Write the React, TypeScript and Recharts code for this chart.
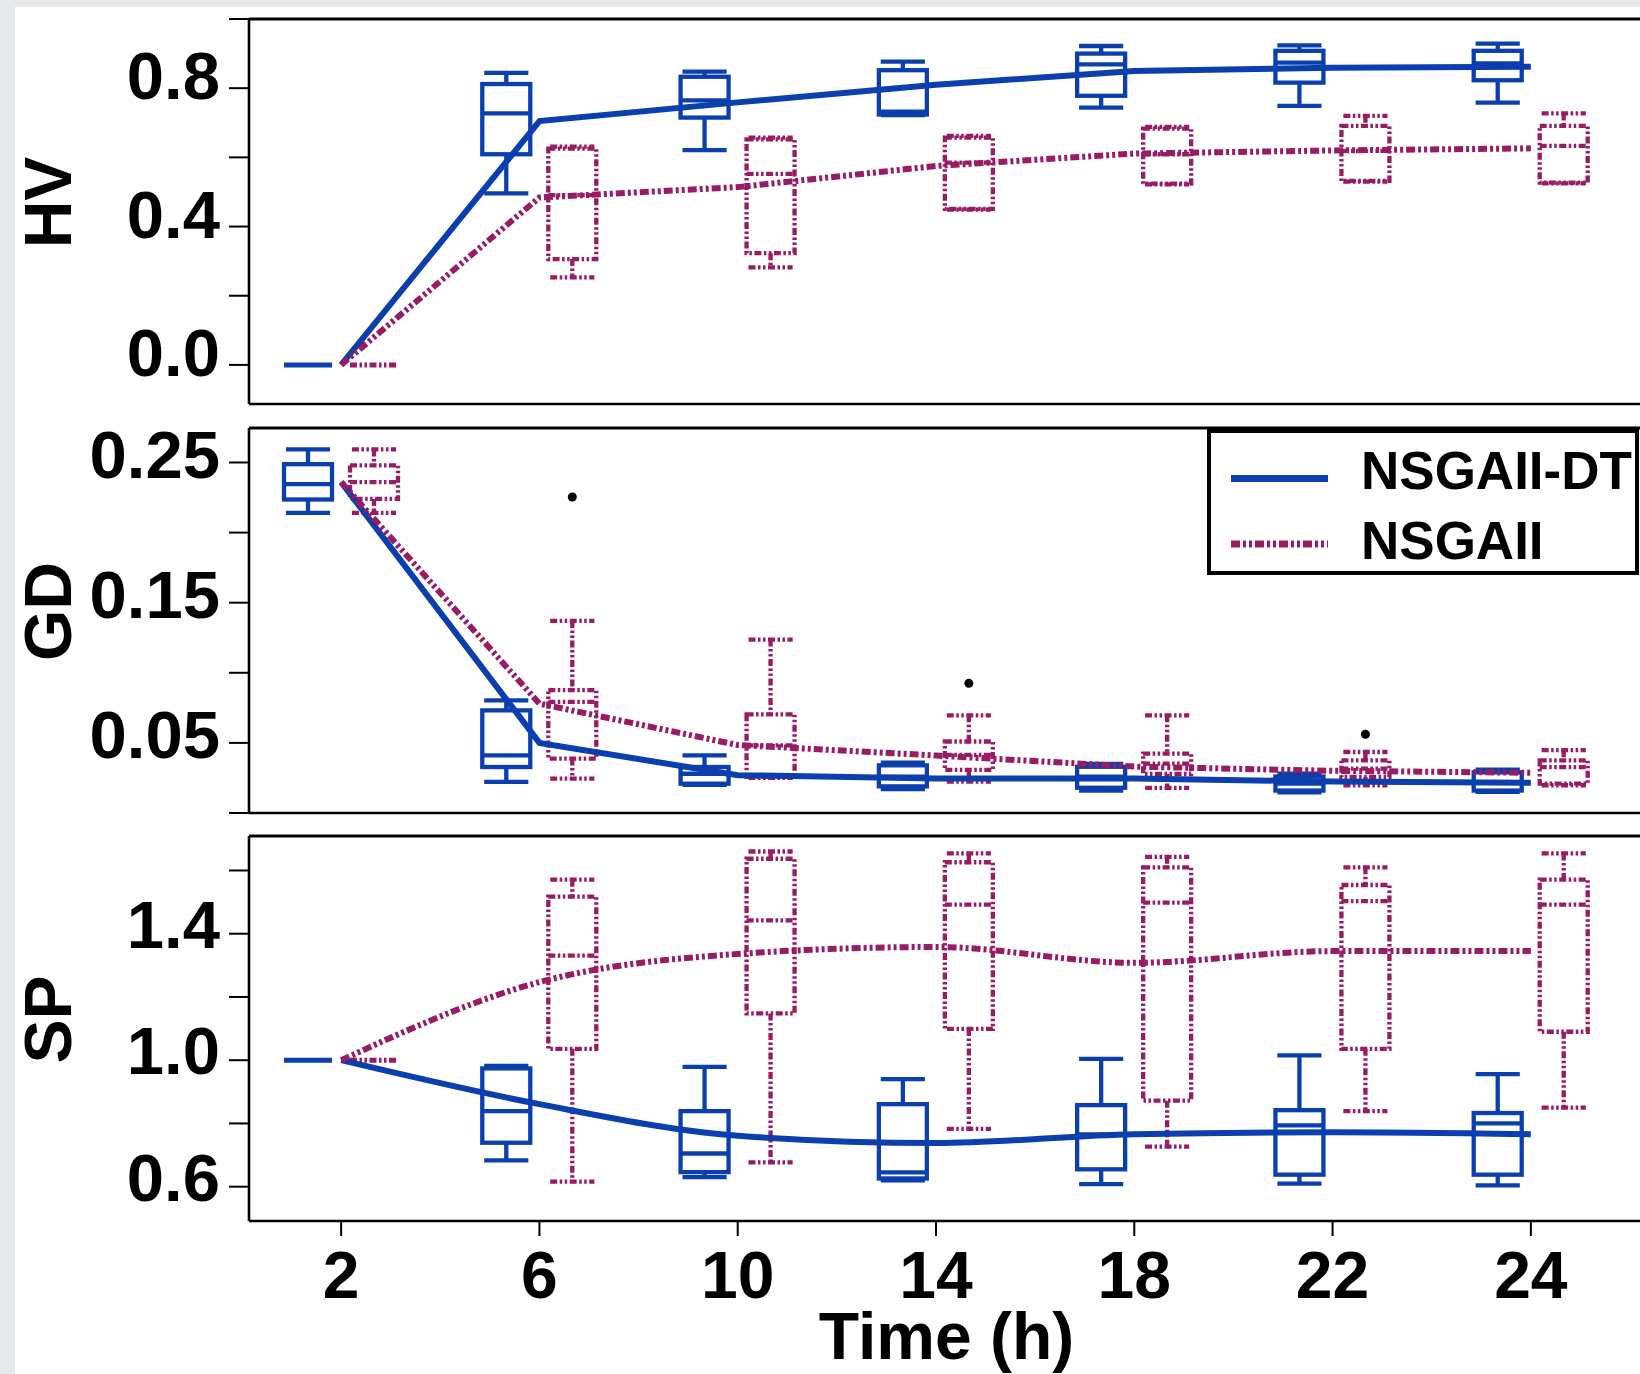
import React from "react";
import {
  ComposedChart,
  Bar,
  Line,
  XAxis,
  YAxis,
  Legend,
  Label,
  ReferenceLine,
} from "recharts";

const FONT = '"Liberation Sans", Arial, Helvetica, sans-serif';
const BLUE = "#0b3fae";
const PURPLE = "#981b64";
const LINE_DASH = "9 3 3 3 3 3";
const BOX_DASH = "7 2.5 2.5 2.5 2.5 2.5";

const TIMES = ["2", "6", "10", "14", "18", "22", "24"];
const SERIES = ["NSGAII-DT", "NSGAII"];

// boxes are [lower whisker, Q1, median, Q3, upper whisker]
const HV_DT_BOX = [
  [0, 0, 0, 0, 0],
  [0.496, 0.609, 0.727, 0.812, 0.844],
  [0.621, 0.715, 0.765, 0.833, 0.848],
  [0.722, 0.724, 0.732, 0.852, 0.877],
  [0.744, 0.778, 0.869, 0.9, 0.922],
  [0.749, 0.816, 0.874, 0.908, 0.924],
  [0.758, 0.823, 0.872, 0.908, 0.929],
];
const HV_NSGA_BOX = [
  [0, 0, 0, 0, 0],
  [0.253, 0.306, 0.491, 0.625, 0.631],
  [0.282, 0.323, 0.552, 0.652, 0.657],
  [0.449, 0.451, 0.585, 0.657, 0.662],
  [0.522, 0.524, 0.609, 0.683, 0.688],
  [0.53, 0.532, 0.619, 0.691, 0.72],
  [0.525, 0.527, 0.633, 0.691, 0.727],
];
const HV_DT_MEAN = [0, 0.705, 0.759, 0.81, 0.85, 0.859, 0.862];
const HV_NSGA_MEAN = [0, 0.484, 0.514, 0.575, 0.611, 0.62, 0.626];

const GD_DT_BOX = [
  [0.214, 0.2236, 0.2345, 0.2488, 0.2593],
  [0.0222, 0.0328, 0.0411, 0.0732, 0.0804],
  [0.02, 0.0209, 0.028, 0.0328, 0.0411],
  [0.017, 0.019, 0.026, 0.034, 0.036],
  [0.016, 0.018, 0.026, 0.033, 0.035],
  [0.0147, 0.016, 0.021, 0.026, 0.028],
  [0.015, 0.016, 0.022, 0.029, 0.031],
];
const GD_NSGA_BOX = [
  [0.214, 0.224, 0.236, 0.248, 0.2593],
  [0.0245, 0.0388, 0.0792, 0.0876, 0.137],
  [0.025, 0.0257, 0.0483, 0.0704, 0.1237],
  [0.0224, 0.0307, 0.0414, 0.051, 0.0697],
  [0.0179, 0.0278, 0.0352, 0.0423, 0.0697],
  [0.0198, 0.0257, 0.0317, 0.0376, 0.0435],
  [0.0198, 0.0209, 0.0327, 0.0376, 0.0448],
];
const GD_NSGA_OUTLIERS = [null, 0.2254, null, 0.0925, null, 0.0562, null];
const GD_DT_MEAN = [0.236, 0.05, 0.027, 0.0246, 0.0246, 0.0224, 0.0216];
const GD_NSGA_MEAN = [0.236, 0.078, 0.0485, 0.041, 0.0331, 0.0301, 0.0287];

const SP_DT_BOX = [
  [1, 1, 1, 1, 1],
  [0.683, 0.739, 0.839, 0.974, 0.982],
  [0.63, 0.646, 0.705, 0.839, 0.979],
  [0.62, 0.626, 0.645, 0.861, 0.94],
  [0.608, 0.655, 0.765, 0.858, 1.004],
  [0.61, 0.638, 0.794, 0.842, 1.015],
  [0.604, 0.638, 0.8, 0.833, 0.956],
];
const SP_NSGA_BOX = [
  [1, 1, 1, 1, 1],
  [0.616, 1.036, 1.331, 1.517, 1.571],
  [0.677, 1.148, 1.442, 1.637, 1.66],
  [0.783, 1.099, 1.492, 1.626, 1.654],
  [0.727, 0.872, 1.498, 1.61, 1.643],
  [0.839, 1.036, 1.503, 1.554, 1.61],
  [0.85, 1.09, 1.492, 1.571, 1.654],
];
const SP_DT_MEAN = [1.0, 0.861, 0.761, 0.738, 0.766, 0.772, 0.766];
const SP_NSGA_MEAN = [1.0, 1.247, 1.336, 1.358, 1.308, 1.345, 1.345];

const HV_TICKS = [0, 0.2, 0.4, 0.6, 0.8, 1.0];
const HV_LABELS = ["0.0", "0.4", "0.8"];
const GD_TICKS = [0, 0.05, 0.1, 0.15, 0.2, 0.25];
const GD_LABELS = ["0.05", "0.15", "0.25"];
const SP_TICKS = [0.6, 0.8, 1.0, 1.2, 1.4, 1.6];
const SP_LABELS = ["0.6", "1.0", "1.4"];

function buildRows(
  dtBox: number[][],
  nsgaBox: number[][],
  dtMean: number[],
  nsgaMean: number[],
  nsgaOut?: (number | null)[]
) {
  return TIMES.map((t, i) => ({
    t,
    dtMean: dtMean[i],
    nsgaMean: nsgaMean[i],
    dtBox: dtBox[i],
    nsgaBox: nsgaBox[i],
    dtRange: [dtBox[i][0], dtBox[i][4]],
    nsgaRange: [nsgaBox[i][0], nsgaBox[i][4]],
    nsgaOut: nsgaOut ? nsgaOut[i] : null,
  }));
}

// box + whiskers, positioned from the range bar rectangle that recharts computes
function boxShape(boxKey: string, color: string, dashed: boolean, outKey?: string) {
  return (props: any) => {
    const { x, y, width, height, payload } = props;
    const s: number[] = payload[boxKey];
    const lo = s[0];
    const hi = s[4];
    const top = Math.min(y, y + height);
    const h = Math.abs(height);
    const py = (v: number) => (hi === lo ? top : top + ((hi - v) / (hi - lo)) * h);
    const st = {
      stroke: color,
      strokeWidth: 4.3,
      strokeDasharray: dashed ? BOX_DASH : undefined,
      fill: "none",
    };
    const cx = x + width / 2;
    const cap = width * 0.46;
    if (hi === lo) {
      return <line x1={x} x2={x + width} y1={top} y2={top} {...st} strokeWidth={5} />;
    }
    const out = outKey ? payload[outKey] : null;
    return (
      <g>
        <line x1={cx} x2={cx} y1={py(hi)} y2={py(s[3])} {...st} />
        <line x1={cx} x2={cx} y1={py(s[1])} y2={py(lo)} {...st} />
        <line x1={cx - cap} x2={cx + cap} y1={py(hi)} y2={py(hi)} {...st} />
        <line x1={cx - cap} x2={cx + cap} y1={py(lo)} y2={py(lo)} {...st} />
        <rect x={x} y={py(s[3])} width={width} height={py(s[1]) - py(s[3])} {...st} />
        <line x1={x} x2={x + width} y1={py(s[2])} y2={py(s[2])} {...st} />
        {out != null && <circle cx={cx} cy={py(out)} r={4.5} fill="#000" />}
      </g>
    );
  };
}

function makeYTick(labels: string[], digits: number, shift: number) {
  return (props: any) => {
    const { x, y, payload } = props;
    const txt = Number(payload.value).toFixed(digits);
    if (!labels.includes(txt)) return <g />;
    return (
      <text
        x={x}
        y={y + shift}
        dy="0.36em"
        textAnchor="end"
        fontSize={67}
        fontWeight="bold"
        fontFamily={FONT}
        fill="#000"
      >
        {txt}
      </text>
    );
  };
}

const XTick = (props: any) => {
  const { x, y, payload } = props;
  return (
    <text
      x={x}
      y={y}
      dy="0.71em"
      textAnchor="middle"
      fontSize={66}
      fontWeight="bold"
      fontFamily={FONT}
      fill="#000"
    >
      {payload.value}
    </text>
  );
};

const LEGEND_DASH: Record<string, string | undefined> = {
  "NSGAII-DT": undefined,
  NSGAII: LINE_DASH,
};

const renderLegend = (props: any) => {
  const items = (props.payload || [])
    .filter((e: any) => e.type !== "none")
    .slice()
    .sort((a: any, b: any) => SERIES.indexOf(a.value) - SERIES.indexOf(b.value));
  return (
    <svg width={432} height={146} style={{ display: "block" }}>
      <rect x={2} y={2} width={428} height={142} fill="#fff" stroke="#000" strokeWidth={4} />
      {items.map((e: any, i: number) => (
        <g key={e.value}>
          <line
            x1={24}
            x2={121}
            y1={49.5 + i * 65.5}
            y2={49.5 + i * 65.5}
            stroke={e.color}
            strokeWidth={7}
            strokeDasharray={LEGEND_DASH[e.value]}
          />
          <text
            x={154}
            y={60 + i * 70}
            fontSize={53}
            fontWeight="bold"
            fontFamily={FONT}
            fill="#000"
          >
            {e.value}
          </text>
        </g>
      ))}
    </svg>
  );
};

interface PanelProps {
  top: number;
  height: number;
  marginTop: number;
  axisHeight: number;
  rows: any[];
  domain: [number, number];
  ticks: number[];
  labels: string[];
  digits: number;
  title: string;
  curve: "linear" | "monotone";
  tickShift: number;
  showXLabels?: boolean;
  withLegend?: boolean;
}

function Panel(p: PanelProps) {
  const axisStyle = { stroke: "#000", strokeWidth: 2.6 };
  const tickStyle = { stroke: "#000", strokeWidth: 2 };
  return (
    <div style={{ position: "absolute", left: 0, top: p.top }}>
      <ComposedChart
        width={1644}
        height={p.height}
        data={p.rows}
        margin={{ top: p.marginTop, right: 0, bottom: 0, left: 0 }}
        barGap={18}
      >
        <XAxis
          dataKey="t"
          height={p.axisHeight}
          padding={{ left: -7, right: 14 }}
          axisLine={axisStyle}
          tickLine={tickStyle}
          tickSize={15}
          tickMargin={15}
          interval={0}
          tick={p.showXLabels ? XTick : false}
        >
          {p.showXLabels && (
            <Label
              value="Time (h)"
              position="insideBottom"
              offset={15}
              fontSize={66}
              fontWeight="bold"
              fontFamily={FONT}
              fill="#000"
            />
          )}
        </XAxis>
        <YAxis
          type="number"
          domain={p.domain}
          ticks={p.ticks}
          allowDataOverflow
          width={249}
          interval={0}
          axisLine={axisStyle}
          tickLine={tickStyle}
          tickSize={20}
          tickMargin={9}
          tick={makeYTick(p.labels, p.digits, p.tickShift)}
        >
          <Label
            content={(lp: any) => {
              const vb = lp.viewBox || { x: 0, y: 0, height: 0 };
              const cx = vb.x + 47;
              const cy = vb.y + vb.height / 2 - 9;
              return (
                <text
                  x={cx}
                  y={cy}
                  dy="0.36em"
                  textAnchor="middle"
                  transform={`rotate(-90 ${cx} ${cy})`}
                  fontSize={66}
                  fontWeight="bold"
                  fontFamily={FONT}
                  fill="#000"
                >
                  {p.title}
                </text>
              );
            }}
          />
        </YAxis>
        <ReferenceLine y={p.domain[1]} stroke="#000" strokeWidth={2.8} />
        <Bar
          dataKey="dtRange"
          barSize={48}
          shape={boxShape("dtBox", BLUE, false)}
          isAnimationActive={false}
          legendType="none"
        />
        <Bar
          dataKey="nsgaRange"
          barSize={48}
          shape={boxShape("nsgaBox", PURPLE, true, "nsgaOut")}
          isAnimationActive={false}
          legendType="none"
        />
        <Line
          dataKey="dtMean"
          name={SERIES[0]}
          type={p.curve}
          stroke={BLUE}
          strokeWidth={6}
          dot={false}
          activeDot={false}
          isAnimationActive={false}
        />
        <Line
          dataKey="nsgaMean"
          name={SERIES[1]}
          type={p.curve}
          stroke={PURPLE}
          strokeWidth={6}
          strokeDasharray={LINE_DASH}
          dot={false}
          activeDot={false}
          isAnimationActive={false}
        />
        {p.withLegend && (
          <Legend
            layout="horizontal"
            verticalAlign="middle"
            align="center"
            content={renderLegend}
            wrapperStyle={{ position: "absolute", left: 1207, top: 29, width: 432, height: 146, margin: 0 }}
          />
        )}
      </ComposedChart>
    </div>
  );
}

export default function App() {
  const hvRows = buildRows(HV_DT_BOX, HV_NSGA_BOX, HV_DT_MEAN, HV_NSGA_MEAN);
  const gdRows = buildRows(GD_DT_BOX, GD_NSGA_BOX, GD_DT_MEAN, GD_NSGA_MEAN, GD_NSGA_OUTLIERS);
  const spRows = buildRows(SP_DT_BOX, SP_NSGA_BOX, SP_DT_MEAN, SP_NSGA_MEAN);
  return (
    <div
      style={{
        position: "absolute",
        left: 0,
        top: 0,
        width: 1640,
        height: 1374,
        overflow: "hidden",
        background: "#e6e9ec",
      }}
    >
      <div style={{ position: "absolute", left: 15, top: 7, right: 0, bottom: 0, background: "#fff" }} />
      <Panel
        top={0}
        height={420}
        marginTop={19}
        axisHeight={16}
        rows={hvRows}
        domain={[-0.113, 1.0]}
        ticks={HV_TICKS}
        labels={HV_LABELS}
        digits={1}
        title="HV"
        curve="linear"
        tickShift={-13}
      />
      <Panel
        top={400}
        height={430}
        marginTop={28}
        axisHeight={17}
        rows={gdRows}
        domain={[0, 0.2746]}
        ticks={GD_TICKS}
        labels={GD_LABELS}
        digits={2}
        title="GD"
        curve="linear"
        tickShift={-9}
        withLegend
      />
      <Panel
        top={810}
        height={564}
        marginTop={26}
        axisHeight={153}
        rows={spRows}
        domain={[0.4915, 1.709]}
        ticks={SP_TICKS}
        labels={SP_LABELS}
        digits={1}
        title="SP"
        curve="monotone"
        tickShift={-10}
        showXLabels
      />
    </div>
  );
}
